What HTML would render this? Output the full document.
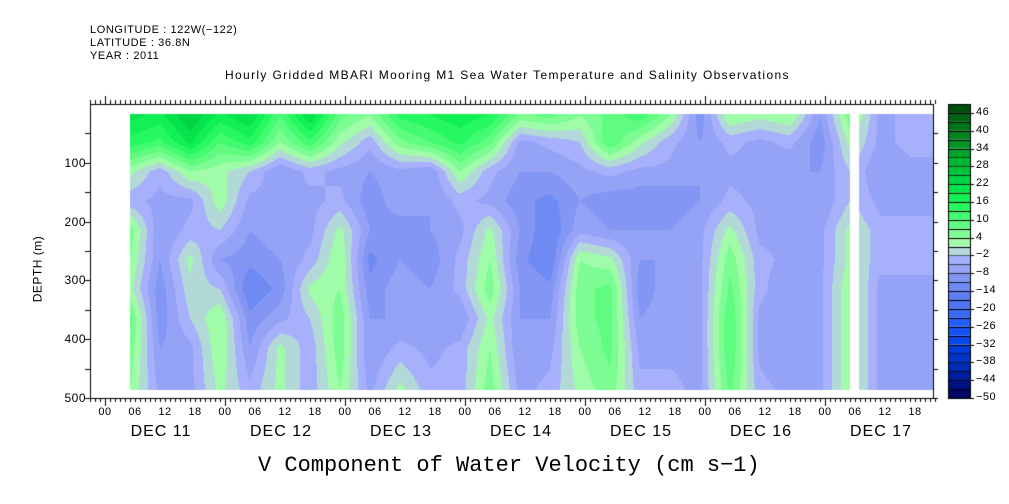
<!DOCTYPE html>
<html><head><meta charset="utf-8">
<style>
body{margin:0;background:#fff;width:1009px;height:504px;overflow:hidden;font-family:"Liberation Sans",sans-serif}
#wrap{position:relative;width:1009px;height:504px}
canvas{position:absolute;left:0;top:0}
.t{position:absolute;white-space:nowrap;color:#000}
</style></head><body>
<div id="wrap">
<canvas id="cv" width="1009" height="504"></canvas>
<div class="t" style="left:90px;top:24px;font-size:11px;line-height:13px;letter-spacing:0.6px">LONGITUDE : 122W(−122)<br>LATITUDE : 36.8N<br>YEAR : 2011</div>
<div class="t" style="left:225px;top:68px;font-size:12px;letter-spacing:1.35px">Hourly Gridded MBARI Mooring M1 Sea Water Temperature and Salinity Observations</div>
<div class="t" style="left:258px;top:453px;font-size:22px;font-family:'Liberation Mono',monospace">V Component of Water Velocity (cm s−1)</div>
<div class="t" style="left:4px;top:262px;font-size:12px;letter-spacing:0.5px;transform:rotate(-90deg);transform-origin:center">DEPTH (m)</div>
<div id="labels"></div>
</div>
<script>
// hours since 00 Dec 11 for each column (6h blocks)
const colHours=[5,11,17,23,29,35,41,47,53,59,65,71,77,83,89,95,101,107,113,119,125,131,137,143,149,155,161];
const depths=[20,65,115,165,215,265,315,365,415,485];
const values=[
[20,15,2,-4,6,4,2,8,6,4],
[18,12,-4,-6,-8,-8,-10,-10,-8,-6],
[25,20,4,-6,-4,2,0,-2,-6,-6],
[18,10,2,3,-2,-8,-2,4,4,2],
[22,15,-2,-6,-8,-10,-14,-10,-8,-4],
[10,4,-8,-6,-6,-8,-10,-6,2,2],
[22,12,-4,-6,-6,-4,2,-2,-4,-4],
[8,2,-6,-4,2,4,4,6,6,4],
[4,-4,-8,-10,-8,-12,-10,-8,-8,-6],
[14,6,-6,-6,-10,-8,-6,-8,-4,2],
[16,10,-8,-8,-8,-10,-8,-8,-6,-4],
[18,14,4,-4,-6,-4,-4,-8,-4,-4],
[16,8,-4,-6,2,4,6,2,4,6],
[6,-6,-8,-10,-8,-10,-8,-8,-8,-6],
[8,-4,-8,-12,-14,-14,-10,-8,-6,-4],
[4,-2,-6,-8,-6,4,6,6,4,2],
[8,10,-4,-10,-8,2,8,8,8,6],
[12,2,-6,-10,-8,-8,-10,-8,-6,-4],
[4,-4,-6,-10,-8,-8,-6,-6,-6,-4],
[-10,-8,-8,-8,-6,-6,-6,-6,-6,-6],
[4,-4,-6,-4,2,6,8,10,10,8],
[2,-6,-6,-6,-6,-4,-4,-6,-6,-4],
[4,-4,-8,-6,-6,-6,-8,-8,-8,-6],
[-8,-10,-8,-8,-6,-6,-6,-6,-6,-6],
[6,2,-2,-2,2,2,4,4,4,4],
[-6,-6,-8,-6,-4,-4,-6,-6,-6,-6],
[-4,-4,-6,-6,-4,-4,-6,-6,-8,-8]];
const depthTicks=[100,200,300,400,500];
const cbTicks=[46,40,34,28,22,16,10,4,-2,-8,-14,-20,-26,-32,-38,-44,-50];
const hourLabels=["00","06","12","18"];
const dayLabels=["DEC 11","DEC 12","DEC 13","DEC 14","DEC 15","DEC 16","DEC 17"];

const X0=90,X1=933,Y0=104,Y1=398;
const xH=h=>105+h*5;
const yD=d=>Y0+d*(Y1-Y0)/500;
function hex(c){return [parseInt(c.substr(1,2),16),parseInt(c.substr(3,2),16),parseInt(c.substr(5,2),16)]}
const anchors=[[-50,"#000058"],[-44,"#001890"],[-38,"#0030c0"],[-32,"#0040e0"],[-26,"#1c58ff"],[-20,"#4470f4"],[-14,"#6684f2"],[-8,"#8c9cf4"],[-2,"#b0b6fc"],[1,"#b4fcb4"],[4,"#8cfc9c"],[10,"#50fc78"],[16,"#18f858"],[22,"#00dc48"],[28,"#00bc38"],[34,"#009c28"],[40,"#007c1c"],[46,"#005c10"],[49,"#004008"]];
function colOf(v){
  for(let i=0;i<anchors.length-1;i++){const a=anchors[i],b=anchors[i+1];
    if(v<=b[0]){const t=Math.max(0,(v-a[0])/(b[0]-a[0]));const A=hex(a[1]),B=hex(b[1]);
      return `rgb(${A.map((x,k)=>Math.round(x+(B[k]-x)*t)).join(',')})`}}
  return anchors[anchors.length-1][1];}
const lvl=[];for(let i=0;i<33;i++)lvl.push(colOf(-50+3*i+1.5));
function levelColor(v){const i=Math.max(0,Math.min(32,Math.floor((v+50)/3)));return lvl[i]}

const cv=document.getElementById('cv'),g=cv.getContext('2d');
g.fillStyle='#fff';g.fillRect(0,0,1009,504);
function sample(h,d){
  let ci=0;while(ci<colHours.length-2&&h>colHours[ci+1])ci++;
  let tx=(h-colHours[ci])/(colHours[ci+1]-colHours[ci]);tx=Math.max(0,Math.min(1,tx));
  let ri=0;while(ri<depths.length-2&&d>depths[ri+1])ri++;
  let ty=(d-depths[ri])/(depths[ri+1]-depths[ri]);ty=Math.max(0,Math.min(1,ty));
  const a=values[ci][ri],b=values[ci+1][ri],c=values[ci][ri+1],e=values[ci+1][ri+1];
  return a*(1-tx)*(1-ty)+b*tx*(1-ty)+c*(1-tx)*ty+e*tx*ty;}
const dx0=130,dy0=Math.round(yD(17)),dy1=Math.round(yD(487));
for(let x=dx0;x<X1;x++){for(let y=dy0;y<dy1;y++){
  const h=(x+0.5-105)/5,d=(y+0.5-Y0)*500/(Y1-Y0);
  g.fillStyle=levelColor(sample(h,d));g.fillRect(x,y,1,1);}}
g.fillStyle='#fff';g.fillRect(850,dy0,9,dy1-dy0);
g.strokeStyle='#000';g.lineWidth=1;
g.strokeRect(X0+0.5,Y0+0.5,X1-X0,Y1-Y0);
g.beginPath();
for(let h=-3;h<=166;h++){const x=Math.round(xH(h))+0.5;const L=(h%24===0)?8:4;
  g.moveTo(x,Y0);g.lineTo(x,Y0-L);g.moveTo(x,Y1);g.lineTo(x,Y1+L);}
for(let d=50;d<=500;d+=50){const y=Math.round(yD(d))+0.5;g.moveTo(X0,y);g.lineTo(X0-5,y);g.moveTo(X1,y);g.lineTo(X1+5,y);}
g.stroke();
const CB0=948,CB1=970;
for(let i=0;i<33;i++){const y0=Y1-(i+1)*(Y1-Y0)/33,y1=Y1-i*(Y1-Y0)/33;
  g.fillStyle=lvl[i];g.fillRect(CB0,y0,CB1-CB0,y1-y0);
  g.beginPath();g.moveTo(CB0,Math.round(y0)+0.5);g.lineTo(CB1,Math.round(y0)+0.5);g.stroke();}
g.strokeRect(CB0+0.5,Y0+0.5,CB1-CB0,Y1-Y0);
const cbY=v=>Y1-(v+50)*(Y1-Y0)/99;
g.beginPath();cbTicks.forEach(v=>{const y=Math.round(cbY(v))+0.5;g.moveTo(CB1,y);g.lineTo(CB1+4,y)});g.stroke();

const L=document.getElementById('labels');
function lab(txt,x,y,size,name,align,ls){const el=document.createElement('div');el.className='t';
  el.textContent=txt;el.style.fontSize=size+'px';el.style.top=(y)+'px';
  if(ls)el.style.letterSpacing=ls+'px';
  if(align==='r'){el.style.right=(1009-x)+'px'}else if(align==='c'){el.style.left=x+'px';el.style.transform='translateX(-50%)'}else el.style.left=x+'px';
  
  
  L.appendChild(el);}
depthTicks.forEach(d=>lab(String(d),86,yD(d)-7,12,'y-tick-label','r',0.5));
cbTicks.forEach(v=>lab(String(v).replace('-','−'),976,cbY(v)-7,11,'colorbar-label','l',0.5));
for(let h=0;h<=162;h+=6){lab(hourLabels[(h/6)%4],xH(h),406,11,'x-hour-label','c',0.5);}
dayLabels.forEach((s,i)=>lab(s,xH(i*24+12)-4,423,16,'x-day-label','c',1));
</script>
</body></html>
